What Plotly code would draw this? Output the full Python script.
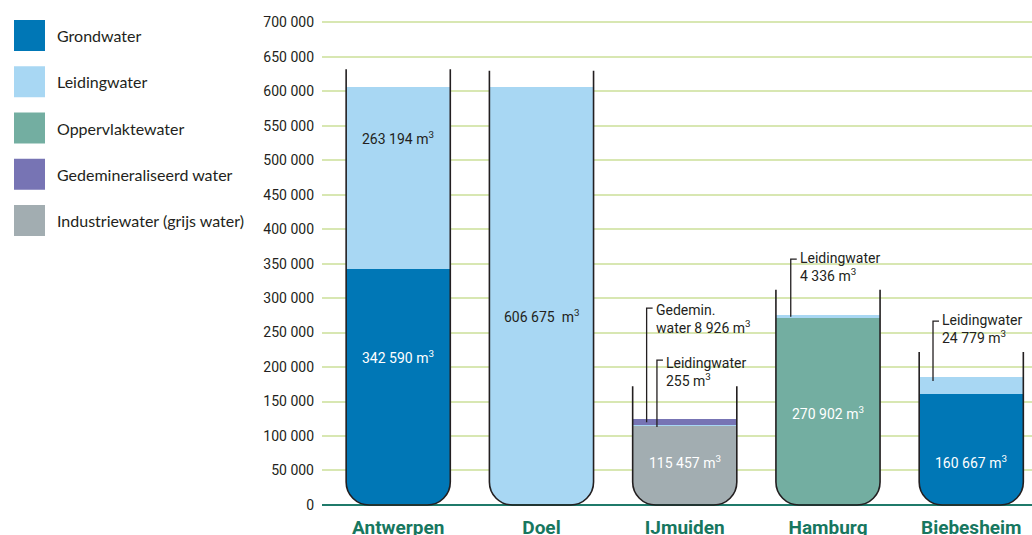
import plotly.graph_objects as go

# ---------------- data ----------------
categories = ["Antwerpen", "Doel", "IJmuiden", "Hamburg", "Biebesheim"]
grondwater = [342590, 0, 0, 0, 160667]
oppervlaktewater = [0, 0, 0, 270902, 0]
industriewater = [0, 0, 115457, 0, 0]
leidingwater = [263194, 606675, 255, 4336, 24779]
gedemineraliseerd = [0, 0, 8926, 0, 0]
y_ticks = list(range(0, 700001, 50000))
legend_labels = ["Grondwater", "Leidingwater", "Oppervlaktewater",
                 "Gedemineraliseerd water", "Industriewater (grijs water)"]

# ---------------- style ----------------
C_GROND = "#0077b6"
C_LEID = "#a8d7f3"
C_OPP = "#73aea1"
C_GEDEM = "#7774b4"
C_IND = "#a2adb1"
C_TEXT = "#231f20"
C_GREEN = "#17775f"
C_GRID = "#d8e7b2"
C_ZERO = "#1f7a6a"
NARROW = "Roboto, Liberation Sans Narrow, sans-serif"
LEGEND_FONT = "Lato, Noto Sans, sans-serif"

W, H = 1032, 535
M_L, M_R, M_T, M_B = 322, 0, 21, 28
X_RANGE = [-0.532, 4.424]
Y_RANGE = [-3000, 702000]
BAR_W = 0.727
R_PX = 23
beaker_tops = [632000, 630000, 172000, 312000, 222000]

plot_w = W - M_L - M_R
plot_h = H - M_T - M_B
px_per_x = plot_w / (X_RANGE[1] - X_RANGE[0])
px_per_y = plot_h / (Y_RANGE[1] - Y_RANGE[0])

# stacking order (bottom to top)
series = [
    ("Grondwater", grondwater, C_GROND),
    ("Oppervlaktewater", oppervlaktewater, C_OPP),
    ("Industriewater", industriewater, C_IND),
    ("Leidingwater", leidingwater, C_LEID),
    ("Gedemineraliseerd water", gedemineraliseerd, C_GEDEM),
]

fig = go.Figure()
for name, vals, color in series:
    fig.add_trace(go.Bar(
        x=list(range(len(categories))), y=vals, width=BAR_W, name=name,
        marker=dict(color=color, line=dict(width=0)),
        showlegend=False, hoverinfo="skip"))

ry = R_PX / px_per_y
rx = R_PX / px_per_x
k = 0.5523
ex = 1.5 / px_per_x
ey = 0.5 / px_per_y

# white masks that round off the bottom corners of each beaker
for i in range(len(categories)):
    xl, xr = i - BAR_W / 2, i + BAR_W / 2
    left = (f"M{xl-ex},{ey} L{xl-ex},{ry} L{xl},{ry} C{xl},{ry*(1-k)} {xl+rx*(1-k)},{0} "
            f"{xl+rx},{0} L{xl+rx},{ey} Z")
    right = (f"M{xr+ex},{ey} L{xr+ex},{ry} L{xr},{ry} C{xr},{ry*(1-k)} {xr-rx*(1-k)},{0} "
             f"{xr-rx},{0} L{xr-rx},{ey} Z")
    for p in (left, right):
        fig.add_shape(type="path", path=p, xref="x", yref="y",
                      fillcolor="white", line=dict(width=0), layer="above")

# zero line
fig.add_shape(type="line", xref="x", yref="y", x0=X_RANGE[0], x1=X_RANGE[1], y0=0, y1=0,
              line=dict(color=C_ZERO, width=2), layer="above")

# beaker outlines
for i, top in enumerate(beaker_tops):
    xl, xr = i - BAR_W / 2, i + BAR_W / 2
    path = (f"M{xl},{top} L{xl},{ry} C{xl},{ry*(1-k)} {xl+rx*(1-k)},0 {xl+rx},0 "
            f"L{xr-rx},0 C{xr-rx*(1-k)},0 {xr},{ry*(1-k)} {xr},{ry} L{xr},{top}")
    fig.add_shape(type="path", path=path, xref="x", yref="y",
                  line=dict(color=C_TEXT, width=1.6), layer="above")


def fmt(v):
    return f"{v:,}".replace(",", " ")


# labels inside the beakers: (category, value, label height, colour, extra spacing)
inside = [
    (0, leidingwater[0], 533000, C_TEXT, ""),
    (0, grondwater[0], 214500, "white", ""),
    (1, leidingwater[1], 274000, C_TEXT, " "),
    (2, industriewater[2], 62300, "white", ""),
    (3, oppervlaktewater[3], 133000, "white", ""),
    (4, grondwater[4], 62300, "white", ""),
]
for ci, v, yy, col, sp in inside:
    fig.add_annotation(x=ci, y=yy, xref="x", yref="y",
                       text=f"{fmt(v)} {sp}m<sup>3</sup>", showarrow=False,
                       font=dict(family=NARROW, size=14, color=col))

# callouts: (category, text, line x offset, line top, line bottom, text centre)
callouts = [
    (2, f"Gedemin.<br>water {fmt(gedemineraliseerd[2])} m<sup>3</sup>", -0.266, 285500, 120000, 269000),
    (2, f"Leidingwater<br>{fmt(leidingwater[2])} m<sup>3</sup>", -0.194, 210000, 113000, 193000),
    (3, f"Leidingwater<br>{fmt(leidingwater[3])} m<sup>3</sup>", -0.260, 356500, 273000, 344500),
    (4, f"Leidingwater<br>{fmt(leidingwater[4])} m<sup>3</sup>", -0.267, 266700, 179700, 254600),
]
tick = 6 / px_per_x
for ci, txt, dx, ytop, ybot, ytxt in callouts:
    xline = ci + dx
    fig.add_shape(type="path", xref="x", yref="y",
                  path=f"M{xline+tick},{ytop} L{xline},{ytop} L{xline},{ybot}",
                  line=dict(color=C_TEXT, width=1.3), layer="above")
    fig.add_annotation(x=xline + 7 / px_per_x, y=ytxt, xref="x", yref="y",
                       text=txt, showarrow=False, xanchor="left", yanchor="middle",
                       align="left", font=dict(family=NARROW, size=14, color=C_TEXT))


# legend (drawn manually)
def px_to_paper(px, py):
    return (px - M_L) / plot_w, (H - M_B - py) / plot_h


legend_colors = [C_GROND, C_LEID, C_OPP, C_GEDEM, C_IND]
for j, (lab, col) in enumerate(zip(legend_labels, legend_colors)):
    cy = 35.5 + j * 46.25
    x0, y0 = px_to_paper(14, cy + 15.5)
    x1, y1 = px_to_paper(45, cy - 15.5)
    fig.add_shape(type="rect", xref="paper", yref="paper", x0=x0, y0=y0, x1=x1, y1=y1,
                  fillcolor=col, line=dict(width=0))
    tx, ty = px_to_paper(55, cy)
    fig.add_annotation(x=tx, y=ty, xref="paper", yref="paper", text=lab, showarrow=False,
                       xanchor="left", yanchor="middle",
                       font=dict(family=LEGEND_FONT, size=16, color=C_TEXT))

fig.update_layout(
    width=W, height=H, barmode="stack", separators=", ",
    margin=dict(l=M_L, r=M_R, t=M_T, b=M_B, pad=0, autoexpand=False),
    paper_bgcolor="white", plot_bgcolor="white", showlegend=False,
    xaxis=dict(range=X_RANGE, tickvals=list(range(len(categories))), ticktext=categories,
               showgrid=False, zeroline=False, showline=False, ticks="", ticklabelstandoff=7,
               automargin=False,
               tickfont=dict(family=NARROW, size=19, color=C_GREEN, weight="bold")),
    yaxis=dict(range=Y_RANGE, tickvals=y_ticks, tickformat=",d", showgrid=True,
               gridcolor=C_GRID, gridwidth=1.5, zeroline=False, ticks="", ticklabelstandoff=7,
               automargin=False,
               tickfont=dict(family=NARROW, size=14, color=C_TEXT)),
)

fig.write_html("out.html", config={"displayModeBar": False},
               post_script="document.body.style.margin='0px';")
